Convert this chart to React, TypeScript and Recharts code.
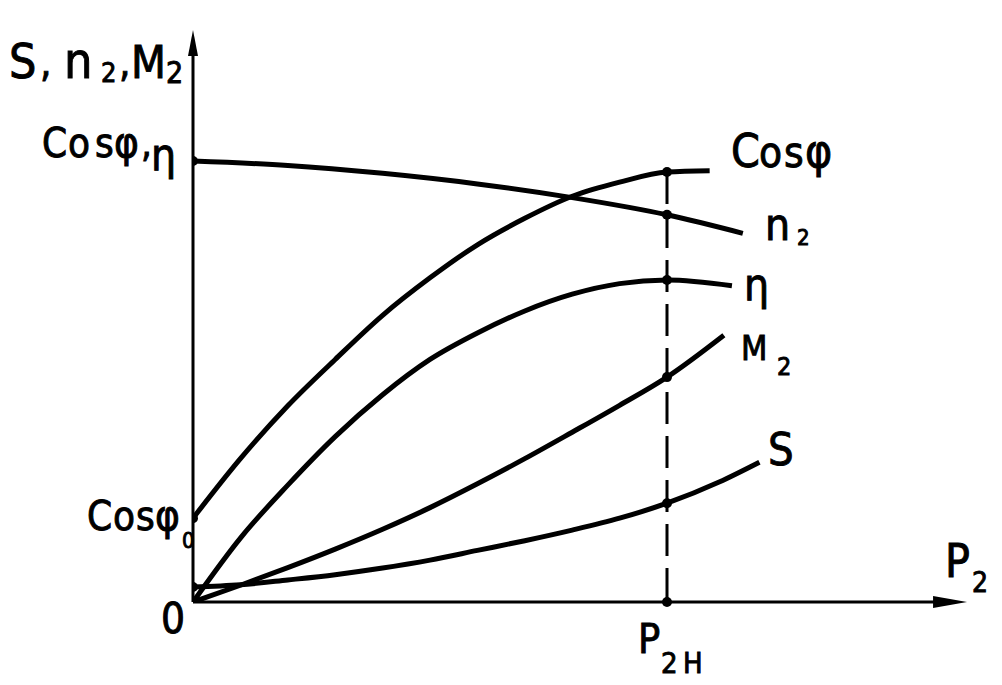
import { LineChart, Line, XAxis, YAxis, ReferenceLine, ReferenceDot } from "recharts";

// load P2 in units of rated load P2н; values in relative units (Cos φ, η mark = 1)
const LOAD_GRID = [0, 0.1, 0.2, 0.3, 0.4, 0.5, 0.6, 0.7, 0.8, 0.9, 1.0];

const cosPhiLoad = [...LOAD_GRID, 1.09];
const cosPhi = [0.19, 0.325, 0.445, 0.55, 0.65, 0.735, 0.81, 0.87, 0.92, 0.952, 0.975, 0.978];

const speedLoad = [0, 0.2, 0.4, 0.6, 0.8, 1.0, 1.16];
const speed = [1.0, 0.99, 0.972, 0.948, 0.917, 0.878, 0.836];

const etaLoad = [...LOAD_GRID, 1.137];
const eta = [0, 0.145, 0.265, 0.375, 0.47, 0.55, 0.61, 0.66, 0.698, 0.722, 0.73, 0.717];

const torqueLoad = [...LOAD_GRID, 1.12];
const torque = [0, 0.038, 0.078, 0.12, 0.165, 0.214, 0.268, 0.325, 0.385, 0.446, 0.51, 0.605];

const slipLoad = [...LOAD_GRID, 1.11, 1.195];
const slip = [0.034, 0.039, 0.05, 0.062, 0.077, 0.095, 0.117, 0.139, 0.163, 0.19, 0.224, 0.272, 0.317];

const RATED = 1;
const X_MAX = 1.65;
const Y_MAX = 1.3;
const X_TIP = 1.633;
const Y_TIP = 1.297;

const zip = (xs: number[], ys: number[]) => xs.map((x, i) => ({ x, y: ys[i] }));

const series = [
  { key: "cos", data: zip(cosPhiLoad, cosPhi), marks: [0, RATED] },
  { key: "n2", data: zip(speedLoad, speed), marks: [0, RATED] },
  { key: "eta", data: zip(etaLoad, eta), marks: [RATED] },
  { key: "m2", data: zip(torqueLoad, torque), marks: [RATED] },
  { key: "s", data: zip(slipLoad, slip), marks: [0, RATED] },
];

const FONT = "'DejaVu Sans Condensed', 'DejaVu Sans', sans-serif";

type Part = { t: string; x: number; y: number; s: number };

const LABELS: Part[][] = [
  [
    { t: "S", x: 9, y: 78, s: 48 },
    { t: ",", x: 40, y: 76, s: 40 },
    { t: "n", x: 64, y: 78, s: 50 },
    { t: "2", x: 101, y: 82, s: 27 },
    { t: ",", x: 119, y: 76, s: 40 },
    { t: "M", x: 131, y: 78, s: 45 },
    { t: "2", x: 166, y: 83, s: 30 },
  ],
  [
    { t: "C", x: 42, y: 157, s: 40 },
    { t: "o", x: 68, y: 157, s: 40 },
    { t: "s", x: 95, y: 157, s: 40 },
    { t: "φ", x: 114, y: 157, s: 42 },
    { t: ",", x: 141, y: 157, s: 38 },
    { t: "η", x: 151, y: 170, s: 44 },
  ],
  [
    { t: "C", x: 87, y: 530, s: 40 },
    { t: "o", x: 113, y: 530, s: 40 },
    { t: "s", x: 136, y: 530, s: 40 },
    { t: "φ", x: 155, y: 530, s: 42 },
    { t: "0", x: 182, y: 548, s: 22 },
  ],
  [{ t: "0", x: 161, y: 633, s: 42 }],
  [
    { t: "C", x: 731, y: 167, s: 46 },
    { t: "o", x: 759, y: 167, s: 42 },
    { t: "s", x: 784, y: 167, s: 42 },
    { t: "φ", x: 805, y: 167, s: 46 },
  ],
  [
    { t: "n", x: 765, y: 240, s: 44 },
    { t: "2", x: 797, y: 245, s: 22 },
  ],
  [{ t: "η", x: 744, y: 300, s: 44 }],
  [
    { t: "M", x: 741, y: 360, s: 34 },
    { t: "2", x: 777, y: 375, s: 25 },
  ],
  [{ t: "S", x: 768, y: 465, s: 45 }],
  [
    { t: "P", x: 945, y: 577, s: 46 },
    { t: "2", x: 972, y: 592, s: 28 },
  ],
  [
    { t: "P", x: 638, y: 653, s: 41 },
    { t: "2", x: 661, y: 673, s: 29 },
    { t: "Н", x: 683, y: 673, s: 29 },
  ],
];

const markDot = (marks: number[]) => (p: any) => {
  const { cx, cy, payload, index } = p;
  if (!marks.includes(payload.x)) return <g key={`d${index}`} />;
  return <circle key={`d${index}`} cx={cx} cy={cy} r={5} fill="#000" />;
};

export default function App() {
  return (
    <div style={{ position: "absolute", left: 0, top: 0, width: 1002, height: 685, background: "#fff" }}>
      <LineChart
        width={1002}
        height={685}
        margin={{ top: 28.7, right: 1002 - 193 - X_MAX * 474, left: 193, bottom: 83 }}
      >
        <XAxis type="number" dataKey="x" domain={[0, X_MAX]} hide allowDataOverflow />
        <YAxis type="number" dataKey="y" domain={[0, Y_MAX]} hide allowDataOverflow />
        <ReferenceLine
          segment={[{ x: 0, y: 0 }, { x: X_TIP - 0.05, y: 0 }]}
          stroke="#000"
          strokeWidth={3}
        />
        <ReferenceLine
          segment={[{ x: 0, y: 0 }, { x: 0, y: Y_TIP - 0.04 }]}
          stroke="#000"
          strokeWidth={3}
        />
        <ReferenceLine
          segment={[{ x: RATED, y: cosPhi[LOAD_GRID.indexOf(RATED)] }, { x: RATED, y: 0 }]}
          stroke="#000"
          strokeWidth={3}
          strokeDasharray="32 12"
        />
        <ReferenceDot
          x={X_TIP}
          y={0}
          r={1}
          shape={(p: any) => (
            <polygon points={`${p.cx},${p.cy} ${p.cx - 34},${p.cy - 6} ${p.cx - 34},${p.cy + 6}`} fill="#000" />
          )}
        />
        <ReferenceDot
          x={0}
          y={Y_TIP}
          r={1}
          shape={(p: any) => (
            <polygon points={`${p.cx},${p.cy} ${p.cx - 5},${p.cy + 26} ${p.cx + 5},${p.cy + 26}`} fill="#000" />
          )}
        />
        <ReferenceDot x={RATED} y={0} r={5} fill="#000" stroke="none" />
        {series.map((s) => (
          <Line
            key={s.key}
            data={s.data}
            dataKey="y"
            type="monotone"
            stroke="#000"
            strokeWidth={5}
            dot={markDot(s.marks)}
            activeDot={false}
            isAnimationActive={false}
          />
        ))}
      </LineChart>
      <svg
        width={1002}
        height={685}
        style={{ position: "absolute", left: 0, top: 0, pointerEvents: "none" }}
      >
        {LABELS.map((parts, i) => (
          <text key={i} fontFamily={FONT} fill="#000" stroke="#000" strokeWidth={0.9}>
            {parts.map((p, j) => (
              <tspan key={j} x={p.x} y={p.y} fontSize={p.s}>
                {p.t}
              </tspan>
            ))}
          </text>
        ))}
      </svg>
    </div>
  );
}
